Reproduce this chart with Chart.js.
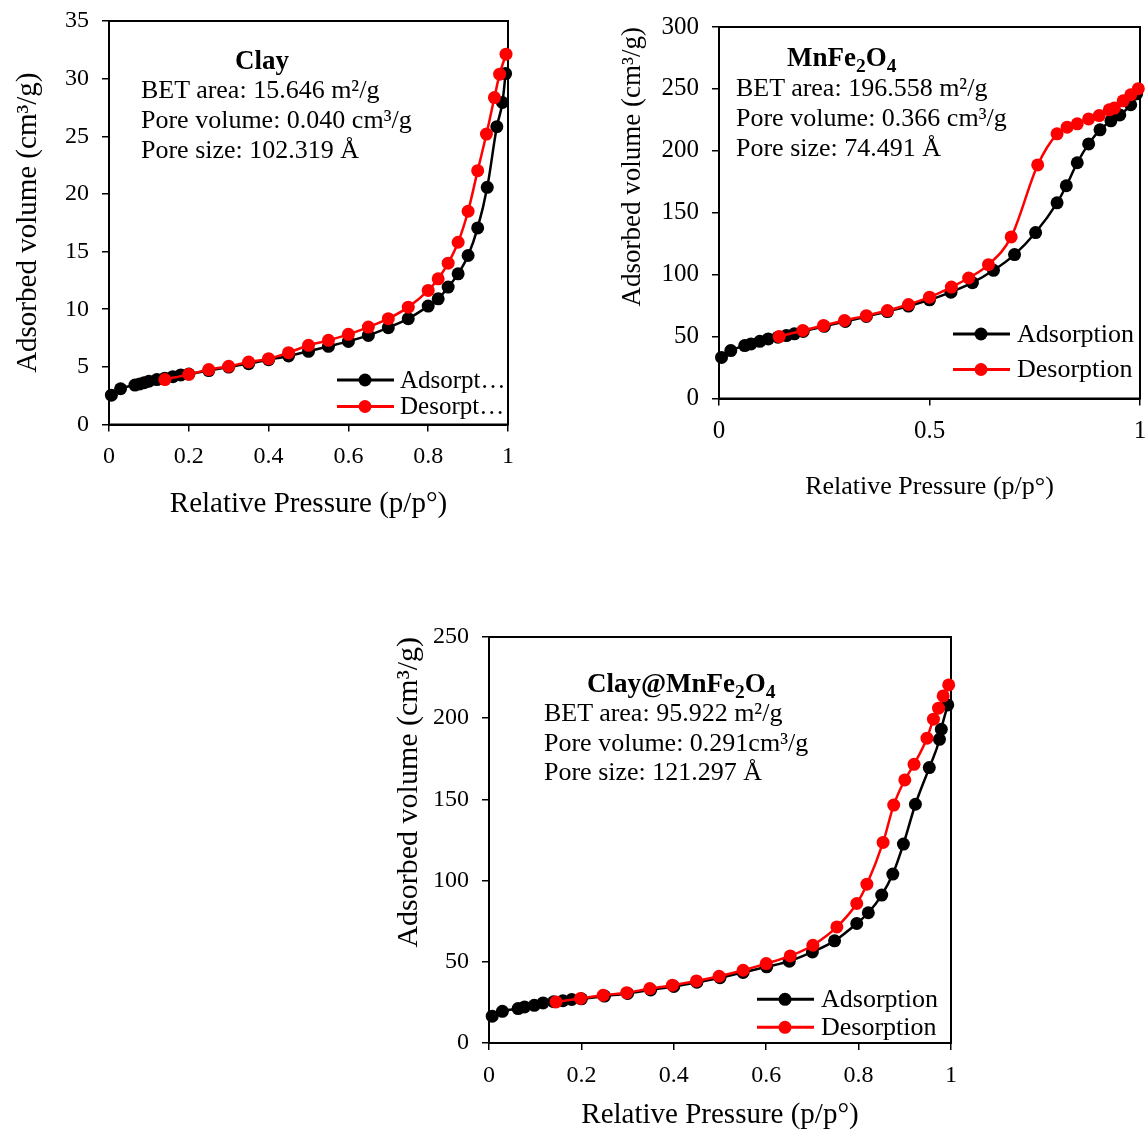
<!DOCTYPE html>
<html>
<head>
<meta charset="utf-8">
<script src="https://cdn.jsdelivr.net/npm/chart.js@4.4.1/dist/chart.umd.min.js"></script>
<style>
  body { margin: 0; background: #fff; width: 1148px; height: 1134px; position: relative; overflow: hidden;
         font-family: 'Liberation Serif', 'Times New Roman', serif; color: #000; }
  canvas { position: absolute; }
  .note { position: absolute; font-size: 26px; line-height: 30px; white-space: nowrap; }
  .note.head { font-weight: bold; font-size: 27px; }
  sub { font-size: 0.72em; vertical-align: -0.3em; line-height: 0; }
</style>
</head>
<body>
<canvas id="clayChart" width="540" height="530" style="left:0;top:0"></canvas>
<canvas id="ferriteChart" width="548" height="510" style="left:600px;top:0"></canvas>
<canvas id="compositeChart" width="600" height="514" style="left:380px;top:620px"></canvas>

<div class="note head" style="left:235px;top:45px">Clay</div>
<div class="note" style="left:141px;top:75px">BET area: 15.646 m²/g</div>
<div class="note" style="left:141px;top:105px">Pore volume: 0.040 cm³/g</div>
<div class="note" style="left:141px;top:135px">Pore size: 102.319 Å</div>

<div class="note head" style="left:787px;top:42px">MnFe<sub>2</sub>O<sub>4</sub></div>
<div class="note" style="left:736px;top:73px">BET area: 196.558 m²/g</div>
<div class="note" style="left:736px;top:103px">Pore volume: 0.366 cm³/g</div>
<div class="note" style="left:736px;top:133px">Pore size: 74.491 Å</div>

<div class="note head" style="left:587px;top:668px">Clay@MnFe<sub>2</sub>O<sub>4</sub></div>
<div class="note" style="left:544px;top:698px">BET area: 95.922 m²/g</div>
<div class="note" style="left:544px;top:728px">Pore volume: 0.291cm³/g</div>
<div class="note" style="left:544px;top:757px">Pore size: 121.297 Å</div>

<script>
// relative pressure (p/p°) and adsorbed volume (cm3/g)
const clayAdsP = [0.006, 0.029, 0.065, 0.077, 0.088, 0.1, 0.12, 0.14, 0.16, 0.18, 0.2, 0.25, 0.3, 0.35, 0.4, 0.45, 0.5, 0.55, 0.6, 0.65, 0.7, 0.75, 0.8, 0.825, 0.85, 0.875, 0.9, 0.924, 0.948, 0.972, 0.986, 0.994];
const clayAdsV = [2.54, 3.1, 3.42, 3.52, 3.62, 3.75, 3.9, 4.02, 4.15, 4.3, 4.38, 4.68, 4.98, 5.28, 5.62, 5.95, 6.35, 6.78, 7.21, 7.73, 8.4, 9.18, 10.27, 10.9, 11.92, 13.07, 14.66, 17.05, 20.57, 25.83, 27.93, 30.44];
const clayDesP = [0.14, 0.2, 0.25, 0.3, 0.35, 0.4, 0.45, 0.5, 0.55, 0.6, 0.65, 0.7, 0.75, 0.8, 0.825, 0.85, 0.875, 0.9, 0.924, 0.946, 0.966, 0.979, 0.995];
const clayDesV = [3.9, 4.35, 4.76, 5.05, 5.42, 5.71, 6.23, 6.87, 7.3, 7.82, 8.45, 9.18, 10.18, 11.63, 12.64, 13.99, 15.81, 18.5, 22.02, 25.19, 28.36, 30.39, 32.12];

const ferriteAdsP = [0.006, 0.028, 0.061, 0.076, 0.097, 0.117, 0.14, 0.16, 0.179, 0.2, 0.25, 0.3, 0.35, 0.4, 0.45, 0.5, 0.551, 0.602, 0.652, 0.702, 0.752, 0.803, 0.825, 0.851, 0.878, 0.905, 0.931, 0.952, 0.978, 0.992];
const ferriteAdsV = [33.2, 38.7, 42.7, 44.1, 46.2, 48.1, 49.5, 50.8, 52.2, 54.2, 58.3, 62.2, 66.2, 70.2, 74.6, 79.7, 85.9, 93.5, 103.5, 116.2, 134, 158, 171.8, 190.4, 205.6, 217, 224.2, 229, 237.2, 246];
const ferriteDesP = [0.143, 0.199, 0.248, 0.298, 0.35, 0.4, 0.45, 0.5, 0.552, 0.593, 0.64, 0.694, 0.757, 0.803, 0.827, 0.851, 0.878, 0.903, 0.927, 0.939, 0.96, 0.978, 0.996];
const ferriteDesV = [50, 54.9, 58.9, 63, 66.9, 71, 75.9, 81.8, 90, 97.3, 108.1, 130.5, 188.6, 213.7, 219.1, 221.8, 225.8, 228.5, 233.1, 234.5, 240.4, 245.3, 250.2];

const compAdsP = [0.007, 0.029, 0.063, 0.077, 0.098, 0.117, 0.14, 0.16, 0.179, 0.2, 0.25, 0.3, 0.35, 0.4, 0.45, 0.5, 0.55, 0.601, 0.65, 0.7, 0.748, 0.796, 0.821, 0.85, 0.874, 0.897, 0.923, 0.953, 0.975, 0.979, 0.993];
const compAdsV = [16.5, 19.5, 21.2, 22.2, 23.2, 24.7, 25.4, 26, 26.8, 27.2, 28.9, 30.5, 32.7, 34.8, 37.4, 40.2, 43.4, 46.9, 50.4, 56.1, 62.9, 73.6, 80.2, 91.1, 104, 122.5, 147, 169.6, 187, 193.2, 208.2];
const compDesP = [0.145, 0.198, 0.247, 0.298, 0.348, 0.397, 0.449, 0.498, 0.55, 0.6, 0.652, 0.701, 0.753, 0.796, 0.818, 0.853, 0.876, 0.9, 0.92, 0.948, 0.962, 0.973, 0.983, 0.995];
const compDesV = [25.3, 27.4, 29.4, 31, 33.5, 35.6, 38.2, 41.1, 44.8, 48.9, 53.6, 60.2, 71.5, 85.9, 97.8, 123.5, 146.5, 162, 171.6, 187.7, 199.4, 206.2, 213.7, 220.5];

const seriesNames = ['Adsorption', 'Desorption'];
const clayLegendText = ['Adsorpt…', 'Desorpt…'];
const xTitle = 'Relative Pressure (p/p°)';
const yTitle = 'Adsorbed volume (cm³/g)';

Chart.defaults.font.family = "'Liberation Serif', 'Times New Roman', serif";
Chart.defaults.color = '#000';

const toPoints = (xs, ys) => xs.map((x, i) => ({ x: x, y: ys[i] }));

// box around the plot area, like the Excel frame
const frame = {
  id: 'frame',
  beforeDatasetsDraw(chart) {
    const a = chart.chartArea, ctx = chart.ctx;
    ctx.save();
    ctx.strokeStyle = '#000';
    ctx.lineWidth = 2;
    ctx.strokeRect(a.left, a.top, a.right - a.left, a.bottom - a.top);
    ctx.restore();
  }
};

// legend drawn inside the plot, bottom right
const isoLegend = {
  id: 'isoLegend',
  afterDatasetsDraw(chart, args, opts) {
    const a = chart.chartArea, ctx = chart.ctx;
    ctx.save();
    ctx.font = opts.size + "px 'Liberation Serif'";
    ctx.textBaseline = 'middle';
    chart.data.datasets.forEach((ds, i) => {
      const y = a.bottom - opts.rows[i];
      const x0 = a.right - opts.lineStart;
      ctx.strokeStyle = ds.borderColor;
      ctx.fillStyle = ds.borderColor;
      ctx.lineWidth = 3;
      ctx.beginPath();
      ctx.moveTo(x0, y);
      ctx.lineTo(x0 + 57, y);
      ctx.stroke();
      ctx.beginPath();
      ctx.arc(x0 + 28, y, 6.5, 0, Math.PI * 2);
      ctx.fill();
      ctx.fillStyle = '#000';
      ctx.fillText(opts.labels ? opts.labels[i] : ds.label, a.right - opts.textStart, y + 1);
    });
    ctx.restore();
  }
};

function drawIsotherm(id, ads, des, s) {
  const ctx = document.getElementById(id).getContext('2d');
  new Chart(ctx, {
    type: 'line',
    data: {
      datasets: [
        {
          label: seriesNames[0],
          data: ads,
          borderColor: '#000000',
          backgroundColor: '#000000',
          borderWidth: 2.5,
          pointRadius: 6.5,
          pointBorderWidth: 0,
          cubicInterpolationMode: 'monotone',
          clip: false,
          order: 1
        },
        {
          label: seriesNames[1],
          data: des,
          borderColor: '#ff0000',
          backgroundColor: '#ff0000',
          borderWidth: 2.5,
          pointRadius: 6.5,
          pointBorderWidth: 0,
          cubicInterpolationMode: 'monotone',
          clip: false,
          order: 0
        }
      ]
    },
    options: {
      responsive: false,
      animation: false,
      devicePixelRatio: 1,
      layout: { padding: s.pad },
      plugins: {
        legend: { display: false },
        tooltip: { enabled: false },
        isoLegend: s.legend
      },
      scales: {
        x: {
          type: 'linear',
          min: 0,
          max: 1,
          ticks: {
            stepSize: s.xStep, font: { size: s.tick }, padding: 11, maxRotation: 0,
            callback: (v) => String(Math.round(v * 10) / 10)
          },
          grid: { drawOnChartArea: false, tickLength: 7, color: '#000', lineWidth: 1.5 },
          border: { color: '#000', width: 2 },
          title: { display: true, text: xTitle, font: { size: s.xTitle }, padding: 0 },
          afterFit: (scale) => { scale.height = s.xHeight; scale.paddingLeft = 0; scale.paddingRight = 0; }
        },
        y: {
          min: 0,
          max: s.yMax,
          ticks: { stepSize: s.yStep, font: { size: s.tick }, padding: 13 },
          grid: { drawOnChartArea: false, tickLength: 7, color: '#000', lineWidth: 1.5 },
          border: { color: '#000', width: 2 },
          title: { display: true, text: yTitle, font: { size: s.yTitle }, padding: 0, align: s.yAlign },
          afterFit: (scale) => { scale.width = s.yWidth; scale.paddingTop = 0; scale.paddingBottom = 0; }
        }
      }
    },
    plugins: [frame, isoLegend]
  });
}

drawIsotherm('clayChart', toPoints(clayAdsP, clayAdsV), toPoints(clayDesP, clayDesV), {
  pad: { left: 11, top: 21, right: 32, bottom: 8 },
  yWidth: 98, xHeight: 97.5, yMax: 35, yStep: 5, xStep: 0.2,
  tick: 24, xTitle: 29, yTitle: 29, yAlign: 'center',
  legend: { size: 25, rows: [44.5, 18], lineStart: 171, textStart: 108, labels: clayLegendText }
});

drawIsotherm('ferriteChart', toPoints(ferriteAdsP, ferriteAdsV), toPoints(ferriteDesP, ferriteDesV), {
  pad: { left: 17, top: 27, right: 8, bottom: 7 },
  yWidth: 102, xHeight: 104.5, yMax: 300, yStep: 50, xStep: 0.5,
  tick: 25, xTitle: 26, yTitle: 27, yAlign: 'end',
  legend: { size: 26, rows: [64.5, 29], lineStart: 187, textStart: 123 }
});

drawIsotherm('compositeChart', toPoints(compAdsP, compAdsV), toPoints(compDesP, compDesV), {
  pad: { left: 11, top: 17, right: 29, bottom: 1 },
  yWidth: 98, xHeight: 90, yMax: 250, yStep: 50, xStep: 0.2,
  tick: 24, xTitle: 29, yTitle: 30, yAlign: 'end',
  legend: { size: 26, rows: [43.7, 15.7], lineStart: 194, textStart: 130 }
});
</script>
</body>
</html>
